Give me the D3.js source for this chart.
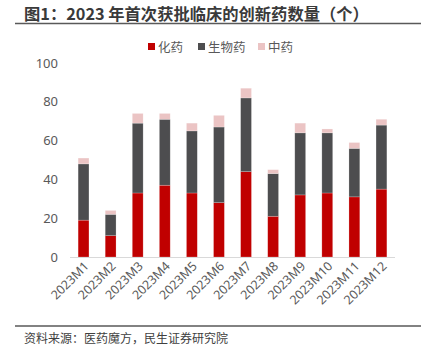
<!DOCTYPE html>
<html><head><meta charset="utf-8">
<script src="https://cdn.jsdelivr.net/npm/d3@7"></script>
<style>body{margin:0;background:#fff;}svg{display:block;font-family:"Noto Sans CJK SC","Noto Sans",sans-serif;}</style>
</head><body>
<script>
const categories = ["2023M1","2023M2","2023M3","2023M4","2023M5","2023M6","2023M7","2023M8","2023M9","2023M10","2023M11","2023M12"];
const chemical = [19,11,33,37,33,28,44,21,32,33,31,35];
const biologic = [29,11,36,34,32,39,38,22,32,31,25,33];
const tcm = [3,2,5,3,4,6,5,2,5,2,3,3];
const seriesNames = ["化药","生物药","中药"];
const yTicks = [0,20,40,60,80,100];
const colors = ["#C00000","#4D4D4F","#EBC4C4"];

const W=429,H=352;
const svg=d3.select("body").append("svg").attr("width",W).attr("height",H);

// title
svg.append("text").attr("x",24).attr("y",20).attr("font-size",16.3).attr("font-weight","bold")
  .attr("fill","#3A3A3A").text("图1：2023 年首次获批临床的创新药数量（个）");
svg.append("line").attr("x1",15).attr("x2",421).attr("y1",23.5).attr("y2",23.5).attr("stroke","#595959").attr("stroke-width",1.5);

const x=d3.scaleBand().domain(categories).range([70,395]).paddingInner(0.6).paddingOuter(0.3);
const y=d3.scaleLinear().domain([0,100]).range([257,63]);

const data=categories.map((c,i)=>({cat:c,"化药":chemical[i],"生物药":biologic[i],"中药":tcm[i]}));
const stack=d3.stack().keys(seriesNames)(data);

svg.append("g").selectAll("g").data(stack).join("g").attr("fill",(d,i)=>colors[i])
  .selectAll("rect").data(d=>d).join("rect")
  .attr("x",d=>x(d.data.cat)).attr("width",x.bandwidth())
  .attr("y",d=>y(d[1])).attr("height",d=>y(d[0])-y(d[1]))
  .attr("stroke","#ffffff").attr("stroke-opacity",0.35).attr("stroke-width",0.6);

// axis line
svg.append("line").attr("x1",70).attr("x2",395).attr("y1",257.5).attr("y2",257.5).attr("stroke","#D9D9D9").attr("stroke-width",1);

// y axis
const ya=svg.append("g").attr("transform","translate(58,0)").call(d3.axisLeft(y).tickValues(yTicks).tickSize(0).tickPadding(0));
ya.select(".domain").remove();
ya.selectAll("text").attr("font-size",13).attr("fill","#595959").attr("font-family","'Noto Sans',sans-serif");

// x axis
const xa=svg.append("g").attr("transform","translate(0,257)").call(d3.axisBottom(x).tickSize(0).tickPadding(0));
xa.select(".domain").remove();
xa.selectAll("text").attr("font-size",12.5).attr("fill","#595959").attr("font-family","'Noto Sans',sans-serif")
  .attr("text-anchor","end").attr("dy",0).attr("transform","translate(6,10) rotate(-45)");

// legend
const leg=[{x:148,w:25},{x:198,w:38},{x:258,w:25}];
seriesNames.forEach((n,i)=>{
  const g=svg.append("g").attr("transform",`translate(${leg[i].x},47)`);
  g.append("rect").attr("x",0).attr("y",-4).attr("width",7).attr("height",7).attr("fill",colors[i]);
  g.append("text").attr("x",10).attr("y",4.5).attr("font-size",12.5).attr("fill","#595959").text(n);
});

// footer
svg.append("line").attr("x1",15).attr("x2",421).attr("y1",326).attr("y2",326).attr("stroke","#595959").attr("stroke-width",1.5);
svg.append("text").attr("x",24).attr("y",343).attr("font-size",12).attr("fill","#404040").text("资料来源：医药魔方，民生证券研究院");
</script>
</body></html>
